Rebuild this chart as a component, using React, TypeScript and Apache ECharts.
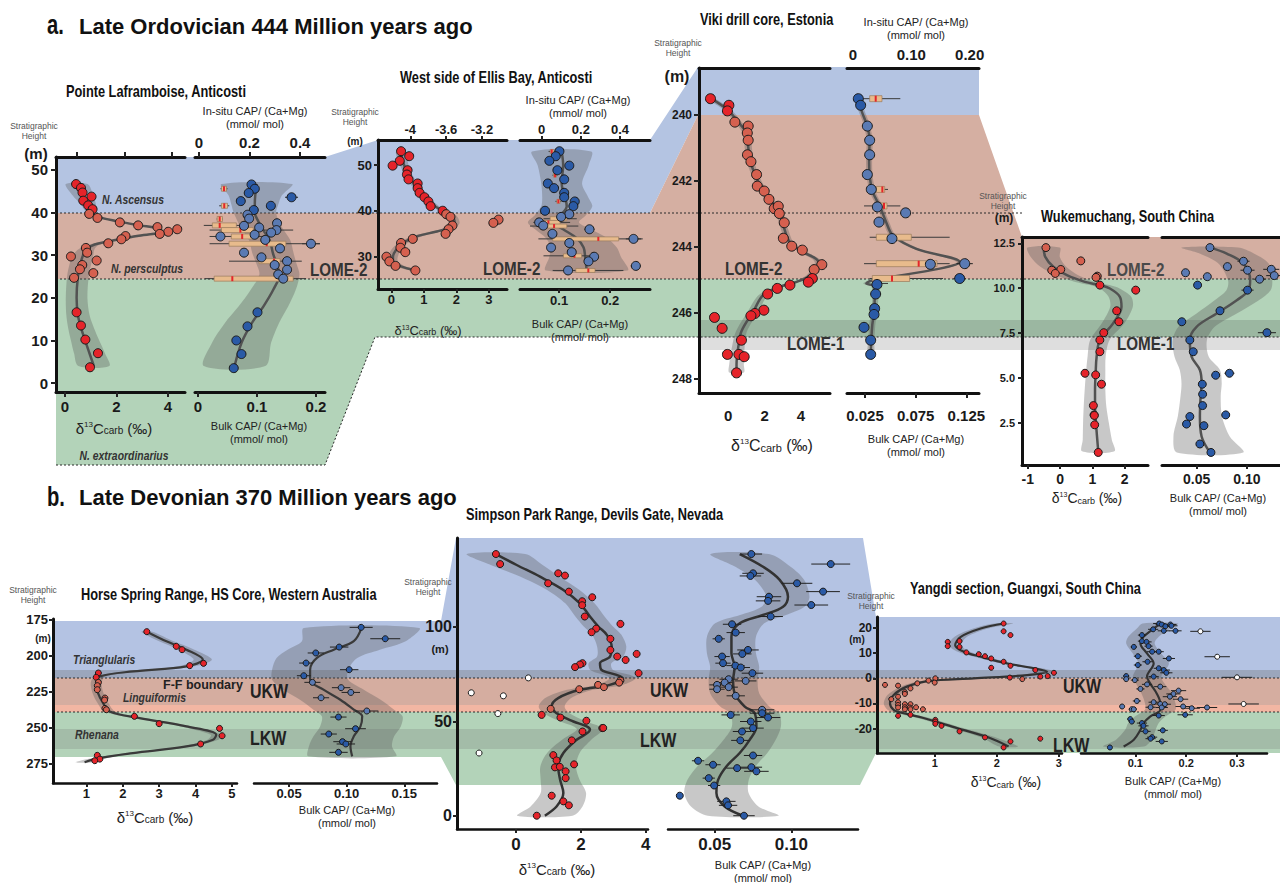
import React, { useEffect, useRef } from "react";
import * as echarts from "echarts";

const SANS = "'Liberation Sans', Arial, Helvetica, sans-serif";
const NARROW = "'Liberation Sans Narrow', 'Liberation Sans', Arial, sans-serif";

// ---------------- DATA ----------------
// [d13C, height]
const A1_D13C = [[0.43,46.7],[0.62,45.8],[0.68,44.7],[1.03,43.75],[0.71,42.8],[0.9,41.7],[1.07,40.8],[0.94,39.7],[1.26,38.75],[2.13,37.7],[2.84,37.0],[3.59,36.6],[4.36,36.1],[4.01,35.5],[3.68,35.0],[2.35,34.5],[2.19,33.75],[1.68,32.8],[0.81,31.7],[0.86,30.6],[0.23,29.7],[1.23,28.75],[0.67,27.7],[0.58,26.7],[1.1,25.8],[0.35,24.7],[0.45,16.6],[0.62,13.5],[0.79,10.2],[1.28,7.0],[0.97,3.7]];
// [fit, height, half-width of band]
const A1_D13C_FIT = [[0.45,46.7,0.42],[0.7,44,0.4],[0.9,42,0.3],[1.05,40,0.2],[1.3,39,0.15],[2.0,38,0.15],[2.9,37,0.15],[3.6,36.3,0.15],[3.7,35.5,0.15],[2.8,34.5,0.15],[1.9,33.5,0.15],[1.15,32.5,0.2],[0.85,31.5,0.3],[0.7,30,0.4],[0.6,28,0.42],[0.5,25,0.42],[0.45,20,0.42],[0.5,16,0.45],[0.62,13,0.5],[0.78,10,0.55],[0.95,7,0.6],[1.12,4,0.6]];
// [CAP, height, error]
const A1_CAP = [[0.0907,46.6,0.004],[0.0963,45.6,0.004],[0.086,44.6,0.004],[0.1586,43.6,0.011],[0.0725,42.7,0.003],[0.1235,41.6,0.007],[0.0946,40.6,0.005],[0.0839,39.5,0.003],[0.0867,38.6,0.003],[0.134,37.5,0.007],[0.078,36.9,0.004],[0.1037,36.5,0.004],[0.133,35.9,0.006],[0.124,35.3,0.008],[0.096,34.8,0.005],[0.038,34.4,0.003],[0.114,33.6,0.005],[0.1915,32.7,0.015],[0.139,31.6,0.006],[0.078,30.6,0.003],[0.1076,29.5,0.006],[0.151,28.6,0.007],[0.13,27.7,0.006],[0.151,26.6,0.006],[0.136,25.5,0.005],[0.1445,24.5,0.007],[0.1008,16.6,0.006],[0.0839,13.3,0.005],[0.065,10.0,0.003],[0.0737,6.8,0.003],[0.0606,3.5,0.003]];
const A1_CAP_FIT = [[0.0996,46.7,0.06],[0.097,44,0.045],[0.0963,42,0.04],[0.0963,40,0.036],[0.102,38,0.035],[0.11,36,0.035],[0.1215,33.5,0.035],[0.127,30.5,0.035],[0.133,28,0.034],[0.138,25.5,0.034],[0.128,22,0.038],[0.111,18,0.042],[0.091,14,0.046],[0.074,9.5,0.05],[0.062,4,0.052]];
// in-situ boxes: [median, height, whiskerLow, q1, q3, whiskerHigh]
const A1_INSITU = [[0.099,45.6,0.085,0.089,0.109,0.113],[0.1,41.6,0.08,0.089,0.113,0.12],[0.082,38.5,0.07,0.072,0.093,0.095],[0.082,37.0,0.019,0.053,0.148,0.188],[0.164,35.9,0.042,0.089,0.215,0.373],[0.171,34.4,0.042,0.128,0.215,0.254],[0.268,32.7,0.042,0.119,0.344,0.479],[0.297,28.6,0.119,0.238,0.321,0.407],[0.132,24.5,0.023,0.06,0.373,0.424]];

const A2_D13C = [[0.3,53.05],[0.55,51.96],[0.26,50.95],[0.04,49.9],[0.5,48.9],[0.48,47.96],[0.53,46.9],[0.81,46.0],[0.81,44.98],[0.87,43.96],[1.02,43.0],[1.14,42.07],[1.21,41.05],[1.58,40.04],[1.69,39.3],[1.82,38.7],[1.88,36.8],[1.76,36.0],[1.67,35.0],[0.66,33.9],[0.3,33.0],[0.28,31.96],[0.43,31.0],[-0.15,30.0],[-0.06,28.98],[0.13,28.0],[0.74,27.0],[3.3,38.1],[3.14,37.4]];
const A2_D13C_FIT = [[0.3,53,0.15],[0.35,51,0.15],[0.45,49,0.12],[0.6,47,0.12],[0.8,45,0.12],[1.05,43,0.12],[1.35,41,0.12],[1.6,40,0.12],[1.85,39,0.15],[1.95,37.5,0.15],[1.85,36.5,0.15],[1.4,35.5,0.15],[0.8,34.5,0.15],[0.35,33,0.15],[0.15,31.5,0.15],[0.05,30,0.15],[0.05,29,0.15],[0.25,28,0.15],[0.75,27,0.15]];
const A2_CAP = [[0.1007,53.05,0.006],[0.0935,51.96,0.004],[0.081,50.95,0.003],[0.12,49.9,0.005],[0.0967,48.9,0.005],[0.11,46.9,0.005],[0.078,46.0,0.003],[0.0902,44.98,0.003],[0.11,43.96,0.004],[0.11,43.0,0.004],[0.1307,42.07,0.006],[0.128,41.05,0.005],[0.0725,40.04,0.003],[0.12,39.3,0.005],[0.104,38.7,0.004],[0.061,37.5,0.004],[0.069,36.8,0.004],[0.1595,36.0,0.01],[0.087,35.0,0.004],[0.2457,33.9,0.015],[0.12,33.0,0.004],[0.0843,32.0,0.003],[0.1248,31.0,0.005],[0.1686,30.0,0.008],[0.1575,29.0,0.008],[0.2503,28.0,0.01],[0.1176,27.0,0.006]];
const A2_CAP_FIT = [[0.105,53,0.058],[0.108,50,0.05],[0.105,46,0.04],[0.112,43,0.045],[0.115,41,0.05],[0.102,39,0.05],[0.089,37.5,0.05],[0.108,36,0.055],[0.135,34,0.06],[0.148,32,0.065],[0.151,30,0.07],[0.154,27,0.08]];
const A2_INSITU = [[0.051,53.0,0.035,0.043,0.063,0.07],[0.068,47.8,0.055,0.06,0.075,0.08],[0.085,42.1,0.07,0.077,0.094,0.1],[0.085,38.3,0.009,0.043,0.128,0.179],[0.034,37.5,-0.043,0.009,0.094,0.145],[0.063,36.7,-0.06,0.026,0.128,0.187],[0.289,33.9,-0.017,0.056,0.393,0.516],[0.167,30.2,0.009,0.111,0.204,0.247],[0.238,27.0,0.056,0.174,0.272,0.417]];

const VIKI_D13C = [[-0.97,239.5],[0.04,239.7],[-0.04,239.87],[0.37,240.21],[1.1,240.33],[1.05,240.54],[1.1,240.76],[1.06,241.2],[1.25,241.41],[1.56,241.8],[1.6,242.15],[1.98,242.3],[2.24,242.55],[2.53,242.83],[2.75,242.76],[2.81,242.98],[3.08,243.26],[3.03,243.73],[3.49,243.97],[4.07,244.09],[5.14,244.53],[4.72,244.68],[4.62,244.95],[4.4,245.06],[3.39,245.15],[2.7,245.25],[2.17,245.42],[1.96,245.91],[1.47,246.01],[1.25,246.08],[-0.75,246.13],[-0.33,246.46],[0.73,246.82],[-0.04,247.25],[0.59,247.25],[0.88,247.32],[0.46,247.81]];
const VIKI_D13C_FIT = [[-0.92,239.5,0.2],[0.0,239.85,0.2],[0.46,240.15,0.2],[1.01,240.55,0.2],[1.1,240.95,0.2],[1.19,241.35,0.2],[1.59,241.95,0.2],[2.11,242.45,0.2],[2.75,242.85,0.2],[3.03,243.35,0.2],[3.39,243.85,0.2],[4.13,244.15,0.2],[4.95,244.45,0.2],[4.5,244.85,0.2],[3.76,245.05,0.2],[2.84,245.2,0.2],[1.93,245.45,0.25],[1.38,245.95,0.3],[0.73,246.55,0.3],[0.55,247.05,0.35],[0.46,247.55,0.4],[0.46,247.8,0.4]];
const VIKI_CAP = [[0.0184,239.5,0.002],[0.0207,239.7,0.002],[0.0273,240.33,0.002],[0.0296,240.76,0.002],[0.0296,241.2,0.002],[0.0273,241.8,0.002],[0.0312,242.25,0.002],[0.0372,242.78,0.002],[0.0651,242.96,0.002],[0.0388,243.24,0.002],[0.0516,243.74,0.002],[0.0895,244.52,0.003],[0.1234,244.5,0.008],[0.1184,244.95,0.006],[0.0368,245.13,0.002],[0.0355,245.42,0.002],[0.0345,245.86,0.002],[0.0339,246.04,0.002],[0.024,246.43,0.002],[0.0306,246.82,0.002],[0.0306,247.25,0.002]];
const VIKI_CAP_FIT = [[0.0191,239.5,0.003],[0.0214,239.85,0.003],[0.0263,240.25,0.003],[0.0296,240.75,0.003],[0.029,241.25,0.003],[0.0296,241.85,0.003],[0.0329,242.35,0.003],[0.0395,242.75,0.003],[0.046,243.25,0.003],[0.0526,243.65,0.003],[0.0757,244.05,0.003],[0.1184,244.45,0.003],[0.0987,244.65,0.003],[0.033,245.0,0.003],[0.0263,245.1,0.003],[0.0345,245.2,0.003],[0.0345,245.85,0.003],[0.0322,246.35,0.003],[0.0312,246.85,0.003],[0.0306,247.25,0.003]];
const VIKI_INSITU = [[0.0389,239.5,0.0171,0.0286,0.0497,0.0811],[0.0503,242.25,0.0343,0.04,0.0543,0.06],[0.0531,242.75,0.0189,0.04,0.0583,0.0811],[0.0669,243.7,0.0286,0.04,0.1,0.1657],[0.1126,244.5,0.0189,0.04,0.144,0.1657],[0.0669,244.95,0.0286,0.0331,0.0971,0.1543],[0.0417,245.1,0.0343,0.0377,0.0469,0.06]];

const WUK_D13C = [[-0.44,12.26],[0.64,11.52],[-0.26,11.0],[0.02,11.04],[-0.15,10.82],[1.15,10.67],[1.11,10.6],[1.23,10.17],[2.34,9.89],[1.75,8.74],[1.82,8.13],[1.35,7.52],[1.23,7.11],[1.23,6.46],[0.77,5.26],[1.1,5.17],[1.28,4.65],[1.03,3.46],[1.05,2.94],[1.06,2.91],[1.07,2.39],[1.18,0.85]];
const WUK_D13C_FIT = [[-0.51,12.26,0.5],[-0.46,11.74,0.45],[-0.21,11.19,0.4],[0.21,10.72,0.35],[0.77,10.35,0.3],[1.23,10.17,0.3],[1.54,9.98,0.3],[1.85,9.52,0.35],[1.9,8.96,0.35],[1.64,8.04,0.35],[1.23,7.11,0.3],[1.13,6.19,0.28],[1.1,5.26,0.3],[1.08,4.33,0.32],[1.08,3.41,0.35],[1.11,2.48,0.4],[1.15,1.56,0.45],[1.18,0.91,0.5]];
const WUK_CAP = [[0.0633,12.26,0.003],[0.0967,11.5,0.006],[0.0807,11.2,0.004],[0.1007,11.0,0.007],[0.1243,11.05,0.008],[0.039,10.86,0.002],[0.0607,10.64,0.003],[0.1127,10.5,0.006],[0.1273,10.7,0.008],[0.051,10.17,0.002],[0.1007,9.89,0.006],[0.0733,8.74,0.004],[0.0353,8.13,0.002],[0.12,7.52,0.009],[0.0433,7.11,0.002],[0.0467,6.46,0.002],[0.0827,5.26,0.005],[0.069,5.15,0.004],[0.0557,4.65,0.003],[0.056,4.09,0.002],[0.056,3.46,0.002],[0.079,2.94,0.004],[0.0433,2.85,0.002],[0.04,2.43,0.002],[0.0573,2.34,0.003],[0.0533,1.32,0.003],[0.0643,0.85,0.003]];
const WUK_CAP_FIT = [[0.0633,12.26,0.028],[0.08,11.93,0.027],[0.0967,11.37,0.025],[0.1033,10.44,0.022],[0.1017,9.89,0.022],[0.09,9.33,0.022],[0.07,8.59,0.02],[0.05,7.85,0.018],[0.0433,7.11,0.017],[0.045,6.19,0.017],[0.0533,5.44,0.02],[0.055,4.7,0.02],[0.054,3.96,0.02],[0.0533,2.85,0.022],[0.055,1.74,0.028],[0.0633,0.85,0.033]];

const HS_D13C = [[2.66,183.3],[3.47,193.5],[3.63,195.8],[4.22,205.3],[3.84,206.9],[1.33,212.0],[1.27,215.0],[1.33,218.5],[1.3,220.8],[1.3,223.6],[1.51,229.4],[1.5,230.8],[1.51,236.6],[1.55,237.5],[2.32,242.1],[3.0,247.2],[4.66,250.5],[4.73,255.6],[4.14,261.3],[1.3,269.2],[1.37,271.8],[1.23,272.9]];
const HS_D13C_FIT = [[2.66,183.3,0.15],[3.2,190,0.2],[3.75,195.8,0.22],[4.2,202.7,0.25],[3.75,207.4,0.22],[2.28,210.9,0.2],[1.37,214.4,0.15],[1.27,219,0.15],[1.32,226,0.15],[1.46,233,0.15],[1.64,238.7,0.15],[2.46,243.3,0.15],[3.75,249.1,0.15],[4.57,254.9,0.15],[4.48,258.3,0.15],[3.75,263,0.15],[2.28,267.6,0.15],[1.37,271,0.2],[0.95,274,0.25]];
const HS_CAP = [[0.1126,180.3,0.01],[0.1335,188.2,0.013],[0.0935,194,0.008],[0.0732,198.1,0.007],[0.0648,205.1,0.006],[0.1022,209.7,0.008],[0.0628,213.9,0.006],[0.0703,218.5,0.007],[0.0952,222.2,0.008],[0.1036,225.5,0.008],[0.0778,229.2,0.007],[0.1175,238.4,0.01],[0.0929,242.6,0.007],[0.1077,250.7,0.009],[0.0845,254.4,0.007],[0.0964,259.7,0.008],[0.0993,261.3,0.008],[0.0929,267.1,0.008]];
const HS_CAP_FIT = [[0.1129,180.7,0.05],[0.1062,189.9,0.045],[0.0888,195.8,0.04],[0.0742,201.5,0.035],[0.0683,209.7,0.033],[0.0683,216.7,0.033],[0.0799,223.6,0.035],[0.0945,230.6,0.035],[0.1062,237.5,0.035],[0.1135,242.1,0.035],[0.112,249.1,0.035],[0.1062,256,0.035],[0.1033,262.9,0.036],[0.1048,269.9,0.038]];

const SP_D13C = [[-0.62,138.6],[-0.49,133.3],[1.3,128.4],[1.51,127.2],[0.99,123.1],[1.63,118.7],[2.35,115.7],[2.04,113.6],[2.04,111.5],[2.12,105.5],[3.22,101.6],[2.47,99.1],[2.33,97.2],[2.91,93.7],[2.91,87.8],[3.12,84.3],[3.72,85.7],[3.38,82.5],[2.05,80.8],[1.97,80.1],[1.82,78.7],[3.78,75.5],[3.22,71.6],[3.18,70.5],[2.53,69.3],[2.71,68.1],[1.95,67.0],[1.07,56.6],[0.79,53.4],[1.37,52.0],[2.17,50.3],[2.66,46.4],[2.69,46.5],[2.05,44.6],[1.72,39.9],[1.15,32.1],[1.25,29.3],[1.2,25.6],[1.35,25.9],[1.79,27.2],[1.53,23.5],[1.53,19.9],[1.1,10.6],[1.46,7.6],[1.63,5.5],[0.64,0.0]];
const SP_D13C_OPEN = [[0.38,73.0],[-1.38,65.1],[-0.39,63.5],[-0.56,54.1],[-1.14,33.2]];
const SP_D13C_FIT = [[-0.62,138.6,0.9],[0.02,132.8,0.8],[0.74,126.6,0.6],[1.46,119.6,0.5],[1.97,112.5,0.45],[2.28,105.5,0.45],[2.54,100.2,0.45],[2.8,95.8,0.45],[2.95,89.6,0.45],[2.9,84.3,0.4],[2.59,80.8,0.35],[2.64,77.2,0.35],[3.1,74.6,0.4],[3.3,72.8,0.4],[2.89,69.3,0.4],[1.97,66.7,0.4],[1.3,62.3,0.4],[1.1,57.8,0.4],[1.25,54.3,0.4],[1.77,49.9,0.4],[2.18,47.3,0.4],[2.28,45.5,0.4],[1.87,40.2,0.45],[1.46,33.2,0.5],[1.3,26.1,0.55],[1.36,19.0,0.6],[1.46,12.0,0.7],[1.25,4.9,0.8],[0.89,0,0.85]];
const SP_CAP = [[0.0739,138.6,0.007],[0.1257,133.3,0.0127],[0.075,128.4,0.007],[0.0733,127.0,0.007],[0.1037,123.1,0.01],[0.1207,118.7,0.011],[0.0854,116.0,0.008],[0.0848,113.8,0.008],[0.113,111.6,0.011],[0.0865,105.5,0.008],[0.0613,101.4,0.006],[0.0637,97.0,0.006],[0.0526,93.7,0.004],[0.0717,87.8,0.007],[0.068,85.7,0.006],[0.0548,84.3,0.005],[0.0554,80.8,0.005],[0.0635,79.5,0.006],[0.067,78.5,0.006],[0.0746,75.5,0.007],[0.0591,72.3,0.006],[0.0702,71.4,0.007],[0.0565,70.5,0.005],[0.0515,69.3,0.005],[0.0591,68.1,0.006],[0.0515,67.0,0.005],[0.0637,63.5,0.006],[0.0809,56.1,0.008],[0.0809,54.3,0.008],[0.0604,53.4,0.006],[0.0848,52.0,0.008],[0.0735,49.9,0.007],[0.075,46.4,0.007],[0.0678,44.6,0.006],[0.0667,39.9,0.006],[0.075,31.9,0.006],[0.0391,29.1,0.004],[0.0489,27.0,0.005],[0.0646,25.2,0.007],[0.0739,25.7,0.007],[0.0772,23.5,0.008],[0.0461,19.9,0.004],[0.0496,16.0,0.004],[0.0272,10.6,0.002],[0.0576,7.6,0.006],[0.0587,5.5,0.006],[0.0691,0.0,0.007]];
const SP_CAP_FIT = [[0.0663,138.6,0.019],[0.0815,131.9,0.018],[0.0924,124.9,0.016],[0.0978,116.0,0.014],[0.0946,110.7,0.014],[0.0815,106.3,0.015],[0.0663,101.9,0.016],[0.0609,94.8,0.016],[0.0609,86.0,0.016],[0.063,78.9,0.016],[0.062,71.8,0.016],[0.063,64.9,0.016],[0.0696,57.8,0.016],[0.0761,54.3,0.016],[0.0772,47.3,0.016],[0.0728,40.2,0.017],[0.0663,33.2,0.018],[0.0576,26.1,0.019],[0.0522,19.0,0.02],[0.0511,12.0,0.021],[0.0565,4.9,0.022],[0.0685,0,0.023]];

const YD_D13C = [[2.11,21.8],[2.11,18.7],[2.22,17.2],[1.21,14.5],[1.4,14.8],[1.21,12.8],[1.4,12.5],[1.51,10.3],[1.71,9.6],[1.81,8.8],[1.91,7.9],[2.11,6.6],[2.22,5.0],[1.91,4.2],[2.62,3.3],[2.92,2.2],[2.82,0.9],[2.7,0.7],[2.21,0.3],[2.41,-0.3],[1.01,0],[1.0,-1.7],[0.9,-0.9],[0.72,-2.0],[0.2,-2.6],[0.41,-2.9],[0.61,-4.0],[0.52,-5.5],[0.52,-6.2],[0.41,-7.3],[0.3,-8.3],[0.41,-9.5],[0.52,-10.3],[0.61,-10.3],[0.41,-10.6],[0.52,-11.5],[0.7,-11.5],[0.6,-11.6],[0.41,-11.6],[0.52,-12.3],[0.81,-12.3],[0.61,-12.3],[0.41,-14.9],[0.61,-14.5],[1.01,-16.5],[1.01,-17.2],[1.01,-18.1],[1.11,-18.9],[1.4,-21.1],[1.81,-23.5],[2.22,-25.1],[2.7,-24.0],[2.11,-27.5]];
const YD_D13C_FIT = [[2.11,21.8,0.15],[1.74,19.8,0.12],[1.42,16.5,0.1],[1.33,13.2,0.1],[1.47,10.6,0.1],[1.74,8.6,0.1],[2.17,5.9,0.1],[2.6,4.0,0.12],[2.81,2.6,0.15],[2.49,1.3,0.12],[1.63,0,0.1],[0.88,-1.1,0.1],[0.55,-3.3,0.1],[0.34,-6.6,0.1],[0.28,-9.9,0.1],[0.34,-12.5,0.1],[0.5,-13.9,0.1],[0.82,-15.8,0.1],[1.36,-19.8,0.1],[1.9,-23.8,0.12],[2.19,-27.1,0.15]];
const YD_CAP = [[0.147,21.8,0.012],[0.152,21.4,0.012],[0.169,21.4,0.012],[0.171,20.9,0.012],[0.159,20.7,0.01],[0.135,19.5,0.01],[0.156,18.9,0.012],[0.179,18.9,0.012],[0.113,17.2,0.008],[0.113,14.8,0.008],[0.122,14.5,0.01],[0.126,12.8,0.008],[0.097,12.5,0.006],[0.133,10.6,0.01],[0.146,10.6,0.01],[0.105,8.8,0.008],[0.166,7.9,0.012],[0.124,6.6,0.01],[0.105,5.3,0.008],[0.146,4.0,0.01],[0.156,3.3,0.012],[0.161,2.2,0.012],[0.136,0.7,0.01],[0.082,0.9,0.006],[0.082,-0.3,0.006],[0.099,-0.7,0.008],[0.123,-2.4,0.01],[0.149,-3.3,0.012],[0.11,-4.2,0.008],[0.185,-4.9,0.015],[0.175,-6.2,0.014],[0.168,-7.3,0.014],[0.189,-8.3,0.015],[0.103,-9.0,0.008],[0.136,-9.5,0.01],[0.149,-10.2,0.012],[0.158,-10.3,0.012],[0.194,-11.2,0.015],[0.074,-11.2,0.005],[0.13,-11.5,0.01],[0.152,-11.6,0.012],[0.093,-12.3,0.006],[0.097,-12.3,0.006],[0.211,-11.9,0.016],[0.241,-11.6,0.02],[0.146,-14.8,0.012],[0.198,-14.5,0.015],[0.09,-16.2,0.006],[0.093,-17.2,0.006],[0.113,-17.8,0.01],[0.116,-18.9,0.01],[0.154,-20.7,0.01],[0.12,-21.1,0.01],[0.133,-23.4,0.01],[0.13,-24.0,0.01],[0.152,-25.1,0.012],[0.05,-27.5,0.004]];
const YD_CAP_OPEN = [[0.228,18.7,0.02],[0.261,8.6,0.025],[0.3,0.4,0.03],[0.313,-10.2,0.03]];
const YD_CAP_FIT = [[0.149,21.8,0.035],[0.136,19.8,0.033],[0.116,16.5,0.03],[0.11,13.9,0.028],[0.123,9.9,0.028],[0.136,5.9,0.03],[0.123,0.7,0.028],[0.129,-2,0.028],[0.142,-6,0.03],[0.149,-9.9,0.03],[0.149,-12.5,0.03],[0.129,-15.2,0.03],[0.116,-17.8,0.03],[0.11,-20.5,0.03],[0.097,-24.4,0.035],[0.077,-27.1,0.04]];

// tick labels
const A1_Y_TICKS = [0, 10, 20, 30, 40, 50];
const A2_Y_TICKS = [30, 40, 50];
const VIKI_Y_TICKS = [240, 242, 244, 246, 248];
const WUK_Y_TICKS = [2.5, 5, 7.5, 10, 12.5];
const HS_Y_TICKS = [175, 200, 225, 250, 275];
const SP_Y_TICKS = [0, 50, 100];
const YD_Y_TICKS = [-20, -10, 0, 10, 20];

// ---------------- STYLE ----------------
const RED = "#e5242a";
const RED_P = "#d5604f";
const BLUE = "#2a5aa6";
const BLUE_P = "#5a7ab3";
const BAND = "rgba(85,85,85,0.32)";

function buildOption() {
  const grid: any[] = [];
  const xAxis: any[] = [];
  const yAxis: any[] = [];
  const series: any[] = [];

  const mkAxis = (gi: number, pos: string, a: any, fam: string, fs: number, lw: number) => {
    const hasT = a.ticks && a.ticks.length > 0;
    return {
      type: "value", gridIndex: gi, position: pos, min: a.min, max: a.max, inverse: !!a.inverse,
      show: a.show !== false,
      splitLine: { show: false },
      axisLine: { show: a.line !== false, onZero: false, lineStyle: { color: "#111", width: lw } },
      axisTick: hasT && a.tick !== false
        ? { show: true, customValues: a.ticks, length: a.tickLen ?? 4, lineStyle: { color: "#222", width: 2 } }
        : { show: false },
      axisLabel: hasT && a.labels !== false
        ? { show: true, customValues: a.ticks, formatter: (v: any) => (a.fmt ? a.fmt(Number(v)) : String(v)),
            fontFamily: fam, fontSize: fs, fontWeight: "bold", color: "#1a1a1a", margin: a.margin ?? 6 }
        : { show: false },
    };
  };

  const bandS = (fit: number[][], xi: number, yi: number) => ({
    type: "custom", xAxisIndex: xi, yAxisIndex: yi, z: 2, silent: true,
    data: fit.map((p) => [p[0], p[1]]),
    renderItem: (params: any, api: any) => {
      if (params.dataIndex !== 0) return { type: "group", children: [] };
      const l = fit.map((p) => api.coord([p[0] - p[2], p[1]]));
      const r = fit.slice().reverse().map((p) => api.coord([p[0] + p[2], p[1]]));
      return { type: "polygon", shape: { points: l.concat(r), smooth: 0.3 }, style: { fill: BAND, stroke: "none" } };
    },
  });
  const lineS = (fit: number[][], xi: number, yi: number, color: string, w: number) => ({
    type: "line", xAxisIndex: xi, yAxisIndex: yi, z: 3, silent: true, smooth: 0.35,
    showSymbol: false, symbol: "none", data: fit.map((p) => [p[0], p[1]]),
    lineStyle: { color, width: w },
  });
  const errS = (pts: number[][], xi: number, yi: number) => ({
    type: "custom", xAxisIndex: xi, yAxisIndex: yi, z: 4, silent: true,
    data: pts.map((p) => [p[0], p[1], p[2]]),
    renderItem: (params: any, api: any) => {
      const x = api.value(0), y = api.value(1), e = api.value(2);
      const a = api.coord([x - e, y]);
      const b = api.coord([x + e, y]);
      return { type: "line", shape: { x1: a[0], y1: a[1], x2: b[0], y2: b[1] }, style: { stroke: "#222", lineWidth: 1 } };
    },
  });
  const boxS = (rows: number[][], xi: number, yi: number, h: number) => ({
    type: "custom", xAxisIndex: xi, yAxisIndex: yi, z: 4, silent: true,
    data: rows,
    renderItem: (params: any, api: any) => {
      const y = api.value(1);
      const pm = api.coord([api.value(0), y]);
      const w0 = api.coord([api.value(2), y]);
      const q1 = api.coord([api.value(3), y]);
      const q3 = api.coord([api.value(4), y]);
      const w1 = api.coord([api.value(5), y]);
      return {
        type: "group",
        children: [
          { type: "line", shape: { x1: w0[0], y1: w0[1], x2: w1[0], y2: w1[1] }, style: { stroke: "#3a3a3a", lineWidth: 1 } },
          { type: "rect", shape: { x: q1[0], y: q1[1] - h / 2, width: Math.max(1, q3[0] - q1[0]), height: h }, style: { fill: "#e8bb8c", stroke: "#9a7b5c", lineWidth: 0.7 } },
          { type: "line", shape: { x1: pm[0], y1: pm[1] - h / 2, x2: pm[0], y2: pm[1] + h / 2 }, style: { stroke: "#e3262b", lineWidth: 2 } },
        ],
      };
    },
  });
  const ptS = (pts: number[][], xi: number, yi: number, base: string, pinkC: string, pink: number[], size: number, z = 5) => ({
    type: "scatter", xAxisIndex: xi, yAxisIndex: yi, z, silent: true, symbolSize: size,
    data: pts.map((p) => [p[0], p[1]]),
    itemStyle: {
      color: (prm: any) => {
        const y = prm.value[1];
        return y >= pink[0] && y <= pink[1] ? pinkC : base;
      },
      borderColor: "#1a1a1a", borderWidth: 1, opacity: 1,
    },
  });

  const panel = (p: any) => {
    const gd = grid.length;
    grid.push({ left: p.dRect[0], top: p.dRect[1], width: p.dRect[2], height: p.dRect[3] });
    const gc = grid.length;
    grid.push({ left: p.cRect[0], top: p.cRect[1], width: p.cRect[2], height: p.cRect[3] });
    const yd = yAxis.length;
    yAxis.push(mkAxis(gd, "left", p.y, p.yFam, p.yFs, p.lw));
    const yc = yAxis.length;
    yAxis.push(mkAxis(gc, "left", { ...p.y, show: false }, p.yFam, p.yFs, p.lw));
    const xd = xAxis.length;
    xAxis.push(mkAxis(gd, "bottom", p.dX, p.xFam, p.xFs, p.blw ?? p.lw));
    if (p.dTop) xAxis.push(mkAxis(gd, "top", p.dTop, p.xFam, p.tFs ?? p.xFs, p.lw));
    const xc = xAxis.length;
    xAxis.push(mkAxis(gc, "bottom", p.cX, p.xFam, p.xFs, p.blw ?? p.lw));
    let xct = -1;
    if (p.cTop) {
      xct = xAxis.length;
      xAxis.push(mkAxis(gc, "top", p.cTop, p.xFam, p.tFs ?? p.xFs, p.lw));
    }
    const pink = p.pink;
    series.push(bandS(p.dFit, xd, yd));
    series.push(lineS(p.dFit, xd, yd, p.lineC, p.lineW));
    if (p.dOpen) series.push(ptS(p.dOpen, xd, yd, "#ffffff", "#ffffff", pink, p.ptSize - 1));
    series.push(ptS(p.dPts, xd, yd, RED, RED_P, pink, p.ptSize));
    series.push(bandS(p.cFit, xc, yc));
    series.push(lineS(p.cFit, xc, yc, p.lineC, p.lineW));
    series.push(errS(p.cPts, xc, yc));
    if (p.cOpen) {
      series.push(errS(p.cOpen, xc, yc));
      series.push(ptS(p.cOpen, xc, yc, "#ffffff", "#ffffff", pink, p.ptSize));
    }
    series.push(ptS(p.cPts, xc, yc, BLUE, BLUE_P, pink, p.ptSize));
    if (p.boxes && xct >= 0) series.push(boxS(p.boxes, xct, yc, p.boxH));
  };

  // ---- Row a ----
  panel({
    dRect: [56, 157, 129, 235], cRect: [195, 157, 130, 235],
    y: { min: -2.1, max: 53.05, ticks: A1_Y_TICKS, margin: 8, tickLen: 5 },
    dX: { min: -0.35, max: 4.66, ticks: [0, 2, 4], margin: 7, tickLen: 5 },
    dTop: { min: -0.35, max: 4.66, ticks: [0.47, 2.33, 4.16], labels: false, tickLen: 5 },
    cX: { min: -0.0051, max: 0.2153, ticks: [0, 0.1, 0.2], margin: 7, tickLen: 5 },
    cTop: { min: -0.0158, max: 0.499, ticks: [0, 0.2, 0.4], margin: 7, tickLen: 5 },
    yFam: SANS, yFs: 15, xFam: SANS, xFs: 15, lw: 3,
    dPts: A1_D13C, dFit: A1_D13C_FIT, cPts: A1_CAP, cFit: A1_CAP_FIT, boxes: A1_INSITU, boxH: 5,
    pink: [24.5, 40], ptSize: 9, lineC: "#525252", lineW: 2.5,
  });
  panel({
    dRect: [378, 140, 129, 149], cRect: [520, 140, 130, 149],
    y: { min: 22.95, max: 55.5, ticks: A2_Y_TICKS, margin: 6 },
    dX: { min: -0.41, max: 3.56, ticks: [0, 1, 2, 3], margin: 4 },
    dTop: { min: -4.36, max: -2.92, ticks: [-4, -3.6, -3.2], margin: 4 },
    cX: { min: 0.0235, max: 0.278, ticks: [0.1, 0.2], margin: 5 },
    cTop: { min: -0.111, max: 0.553, ticks: [0, 0.2, 0.4], margin: 4 },
    yFam: SANS, yFs: 13, xFam: SANS, xFs: 13, lw: 3,
    dPts: A2_D13C, dFit: A2_D13C_FIT, cPts: A2_CAP, cFit: A2_CAP_FIT, boxes: A2_INSITU, boxH: 4,
    pink: [20, 40], ptSize: 9, lineC: "#525252", lineW: 2.5,
  });
  panel({
    dRect: [699, 68, 131, 325], cRect: [847, 68, 132, 325],
    y: { min: 238.57, max: 248.42, inverse: true, ticks: VIKI_Y_TICKS, margin: 7, tickLen: 5 },
    dX: { min: -1.6, max: 5.59, ticks: [0, 2, 4], margin: 15, tick: false },
    dTop: { min: -1.6, max: 5.59, ticks: [] },
    cX: { min: 0.00723, max: 0.1375, ticks: [0.025, 0.075, 0.125], margin: 15, tickLen: 5 },
    cTop: { min: -0.0103, max: 0.216, ticks: [0, 0.1, 0.2], margin: 6, tick: false, fmt: (v: number) => (v === 0 ? "0" : v.toFixed(2)) },
    yFam: SANS, yFs: 12, xFam: SANS, xFs: 15, lw: 3,
    dPts: VIKI_D13C, dFit: VIKI_D13C_FIT, cPts: VIKI_CAP, cFit: VIKI_CAP_FIT, boxes: VIKI_INSITU, boxH: 6,
    pink: [240, 244.94], ptSize: 10, lineC: "#525252", lineW: 2.5,
  });
  panel({
    dRect: [1022, 237, 126, 228], cRect: [1162, 237, 118, 228],
    y: { min: 0.15, max: 12.85, ticks: WUK_Y_TICKS, margin: 7, fmt: (v: number) => v.toFixed(1) },
    dX: { min: -1.18, max: 2.72, ticks: [-1, 0, 1, 2], margin: 7 },
    dTop: { min: -1.18, max: 2.72, ticks: [] },
    cX: { min: 0.0156, max: 0.133, ticks: [0.05, 0.1], margin: 7, fmt: (v: number) => v.toFixed(2) },
    cTop: { min: 0.0156, max: 0.133, ticks: [] },
    yFam: SANS, yFs: 11, xFam: SANS, xFs: 14, lw: 3,
    dPts: WUK_D13C, dFit: WUK_D13C_FIT, cPts: WUK_CAP, cFit: WUK_CAP_FIT,
    pink: [10.5, 13], ptSize: 8, lineC: "#525252", lineW: 2.5,
  });

  // ---- Row b ----
  panel({
    dRect: [53, 619, 184, 164], cRect: [254, 619, 183, 164],
    y: { min: 174.5, max: 288.4, inverse: true, ticks: HS_Y_TICKS, margin: 5 },
    dX: { min: 0.082, max: 5.14, ticks: [1, 2, 3, 4, 5], margin: 4 },
    cX: { min: 0.0196, max: 0.1784, ticks: [0.05, 0.1, 0.15], margin: 4, fmt: (v: number) => v.toFixed(2) },
    yFam: SANS, yFs: 13, xFam: SANS, xFs: 13, lw: 3, blw: 2.5,
    dPts: HS_D13C, dFit: HS_D13C_FIT, cPts: HS_CAP, cFit: HS_CAP_FIT,
    pink: [215.3, 238.9], ptSize: 6, lineC: "#3a3a3a", lineW: 2.2,
  });
  panel({
    dRect: [457, 538, 191, 291], cRect: [668, 538, 190, 291],
    y: { min: -7.04, max: 147.1, ticks: SP_Y_TICKS, margin: 5 },
    dX: { min: -1.82, max: 4.07, ticks: [0, 2, 4], margin: 7 },
    cX: { min: 0.0195, max: 0.1435, ticks: [0.05, 0.1], margin: 7, fmt: (v: number) => v.toFixed(2) },
    yFam: SANS, yFs: 16, xFam: SANS, xFs: 17, lw: 3, blw: 2.5,
    dPts: SP_D13C, dFit: SP_D13C_FIT, dOpen: SP_D13C_OPEN, cPts: SP_CAP, cFit: SP_CAP_FIT,
    pink: [55, 73], ptSize: 7, lineC: "#333333", lineW: 2.5,
  });
  panel({
    dRect: [877, 617, 185, 136], cRect: [1081, 617, 186, 136],
    y: { min: -29.7, max: 24.4, ticks: YD_Y_TICKS, margin: 5 },
    dX: { min: 0.071, max: 3.05, ticks: [1, 2, 3], margin: 4 },
    cX: { min: -0.0069, max: 0.359, ticks: [0.1, 0.2, 0.3], margin: 4 },
    yFam: SANS, yFs: 12, xFam: SANS, xFs: 11, lw: 3, blw: 2.5,
    dPts: YD_D13C, dFit: YD_D13C_FIT, cPts: YD_CAP, cFit: YD_CAP_FIT, cOpen: YD_CAP_OPEN,
    pink: [-13.3, 0], ptSize: 5, lineC: "#333333", lineW: 2.2,
  });

  // ---------------- decorations ----------------
  const P = (pts: number[][], fill: string, z = -10) => ({ type: "polygon", z, silent: true, shape: { points: pts }, style: { fill, stroke: "none" } });
  const R = (x: number, y: number, w: number, h: number, fill: string, z = -9) => ({ type: "rect", z, silent: true, shape: { x, y, width: w, height: h }, style: { fill } });
  const DL = (pts: number[][]) => ({ type: "polyline", z: -8, silent: true, shape: { points: pts }, style: { stroke: "#2a2a2a", lineWidth: 1, lineDash: [2, 2], fill: "none" } });
  const T = (text: string, x: number, y: number, o: any = {}) => ({
    type: "text", x, y, z: 100, silent: true, scaleX: o.sx ?? 1,
    style: {
      text, fill: o.color || "#1a1a1a", fontSize: o.size || 11, fontFamily: o.family || SANS,
      fontWeight: o.weight || "normal", fontStyle: o.italic ? "italic" : "normal",
      align: o.align || "center", verticalAlign: "middle", textAlign: o.align || "center", textVerticalAlign: "middle",
    },
  });
  const D = (x: number, y: number, s: number) => ({
    type: "text", x, y, z: 100, silent: true,
    style: {
      text: "{m|δ}{s|13}{m|C}{b|carb}{m| (‰)}",
      align: "center", verticalAlign: "middle", textAlign: "center", textVerticalAlign: "middle",
      fill: "#222", fontSize: s, fontFamily: SANS,
      rich: {
        m: { fontSize: s, fontFamily: SANS, fill: "#222", color: "#222" },
        s: { fontSize: Math.round(s * 0.5), fontFamily: SANS, fill: "#222", color: "#222", verticalAlign: "top" },
        b: { fontSize: Math.round(s * 0.66), fontFamily: SANS, fill: "#222", color: "#222", verticalAlign: "bottom" },
      },
    },
  });
  const bulk = (x: number, y: number) => [T("Bulk CAP/ (Ca+Mg)", x, y, { color: "#222" }), T("(mmol/ mol)", x, y + 13, { color: "#222" })];
  const insitu = (x: number, y: number) => [T("In-situ CAP/ (Ca+Mg)", x, y, { color: "#222" }), T("(mmol/ mol)", x, y + 13, { color: "#222" })];
  const strat = (x: number, y: number) => [T("Stratigraphic", x, y, { size: 8.5, color: "#555" }), T("Height", x, y + 10, { size: 8.5, color: "#555" })];
  const title = (s: string, x: number, y: number) => T(s, x, y, { align: "left", family: NARROW, weight: "bold", size: 16, color: "#111", sx: 0.8 });
  const zone = (s: string, x: number, y: number, align = "center") => T(s, x, y, { align, family: NARROW, weight: "bold", italic: true, size: 13, color: "#333", sx: 0.8 });
  const big = (s: string, x: number, y: number, size = 19, color = "#333") => T(s, x, y, { align: "left", family: NARROW, weight: "bold", size, color, sx: 0.8 });

  const elements: any[] = [
    // row a backgrounds
    P([[56, 157], [325, 157], [378, 140], [650, 140], [698, 67], [979, 67], [979, 115], [698, 115], [650, 213], [56, 213]], "#b4c4e2"),
    P([[56, 213], [650, 213], [698, 115], [979, 115], [1022, 237], [1280, 237], [1280, 279], [56, 279]], "#d5afa2"),
    P([[56, 279], [1280, 279], [1280, 337], [375, 337], [325, 465], [56, 465]], "#b3d3b9"),
    R(698, 320, 582, 30, "rgba(0,0,0,0.13)"),
    DL([[56, 213], [1022, 213]]),
    DL([[56, 279], [1280, 279]]),
    DL([[56, 465], [325, 465], [375, 337], [1280, 337]]),
    // row b backgrounds
    P([[53, 621], [441, 621], [456, 538], [863, 538], [876, 617], [1280, 617], [1280, 678], [53, 678]], "#b4c3e3"),
    R(53, 678, 1227, 34, "#d5ada0", -10),
    R(53, 705, 1227, 7, "#f2b6a3", -10),
    P([[53, 712], [1280, 712], [1280, 753], [876, 753], [860, 785], [456, 785], [441, 757], [53, 757]], "#b3d3b9"),
    R(53, 670, 1227, 8, "rgba(100,100,100,0.3)"),
    R(53, 729, 1227, 20, "rgba(100,100,100,0.2)"),
    DL([[53, 678], [1280, 678]]),
    DL([[53, 712], [1280, 712]]),

    // headings
    T("a.", 47, 24, { align: "left", family: NARROW, weight: "bold", size: 28, color: "#111", sx: 0.72 }),
    T("Late Ordovician 444 Million years ago", 79, 26, { align: "left", weight: "bold", size: 22, color: "#111" }),
    T("b.", 47, 496, { align: "left", family: NARROW, weight: "bold", size: 28, color: "#111", sx: 0.72 }),
    T("Late Devonian 370 Million years ago", 79, 497, { align: "left", weight: "bold", size: 22, color: "#111" }),
    title("Pointe Laframboise, Anticosti", 66, 91),
    title("West side of Ellis Bay, Anticosti", 400, 77),
    title("Viki drill core, Estonia", 700, 19),
    title("Wukemuchang, South China", 1041, 216),
    title("Horse Spring Range, HS Core, Western Australia", 81, 594),
    title("Simpson Park Range, Devils Gate, Nevada", 466, 514),
    title("Yangdi section, Guangxi, South China", 910, 588),

    ...strat(34, 126), ...strat(355, 112), ...strat(678, 43), ...strat(1003, 196),
    ...strat(33, 590), ...strat(428, 582), ...strat(871, 596),
    T("(m)", 36, 153, { weight: "bold", size: 15 }),
    T("(m)", 355, 141, { weight: "bold", size: 10 }),
    T("(m)", 677, 76, { weight: "bold", size: 16 }),
    T("(m)", 1004, 218, { weight: "bold", size: 12 }),
    T("(m)", 43, 638, { weight: "bold", size: 10 }),
    T("(m)", 440, 649, { weight: "bold", size: 11 }),
    T("(m)", 857, 639, { weight: "bold", size: 10 }),

    ...insitu(255, 111), ...insitu(578, 100), ...insitu(916, 22),
    ...bulk(259, 426), ...bulk(580, 324), ...bulk(916, 439), ...bulk(1218, 498),
    ...bulk(347, 810), ...bulk(763, 865), ...bulk(1173, 781),
    D(114, 428, 15), D(428, 330, 13), D(772, 445, 16), D(1087, 498, 14),
    D(155, 817, 15), D(557, 869, 15), D(1006, 782, 14),

    zone("N. Ascensus", 133, 199), zone("N. persculptus", 147, 268), zone("N. extraordinarius", 124, 455),
    big("LOME-2", 310, 269), big("LOME-2", 483, 268), big("LOME-2", 725, 268), big("LOME-2", 1107, 269, 19, "#4a4a4a"),
    big("LOME-1", 787, 343), big("LOME-1", 1117, 343),

    zone("Trianglularis", 73, 659, "left"), zone("Linguiformis", 123, 697, "left"), zone("Rhenana", 75, 734, "left"),
    T("F-F boundary", 163, 685, { align: "left", weight: "bold", size: 12.5, color: "#222" }),
    big("UKW", 250, 691, 20, "#222"), big("LKW", 250, 738, 20, "#222"),
    big("UKW", 650, 690, 20, "#222"), big("LKW", 640, 740, 20, "#222"),
    big("UKW", 1063, 686, 20, "#222"), big("LKW", 1053, 745, 20, "#222"),
  ];

  return {
    animation: false,
    backgroundColor: "#ffffff",
    grid, xAxis, yAxis, series,
    graphic: { elements },
  };
}

export default function App() {
  const ref = useRef<HTMLDivElement | null>(null);
  useEffect(() => {
    if (!ref.current) return;
    const chart = echarts.init(ref.current, undefined, { renderer: "svg", width: 1280, height: 883 });
    chart.setOption(buildOption() as any);
    return () => chart.dispose();
  }, []);
  return (
    <div
      ref={ref}
      style={{ position: "absolute", left: 0, top: 0, width: 1280, height: 883, background: "#fff" }}
    />
  );
}
